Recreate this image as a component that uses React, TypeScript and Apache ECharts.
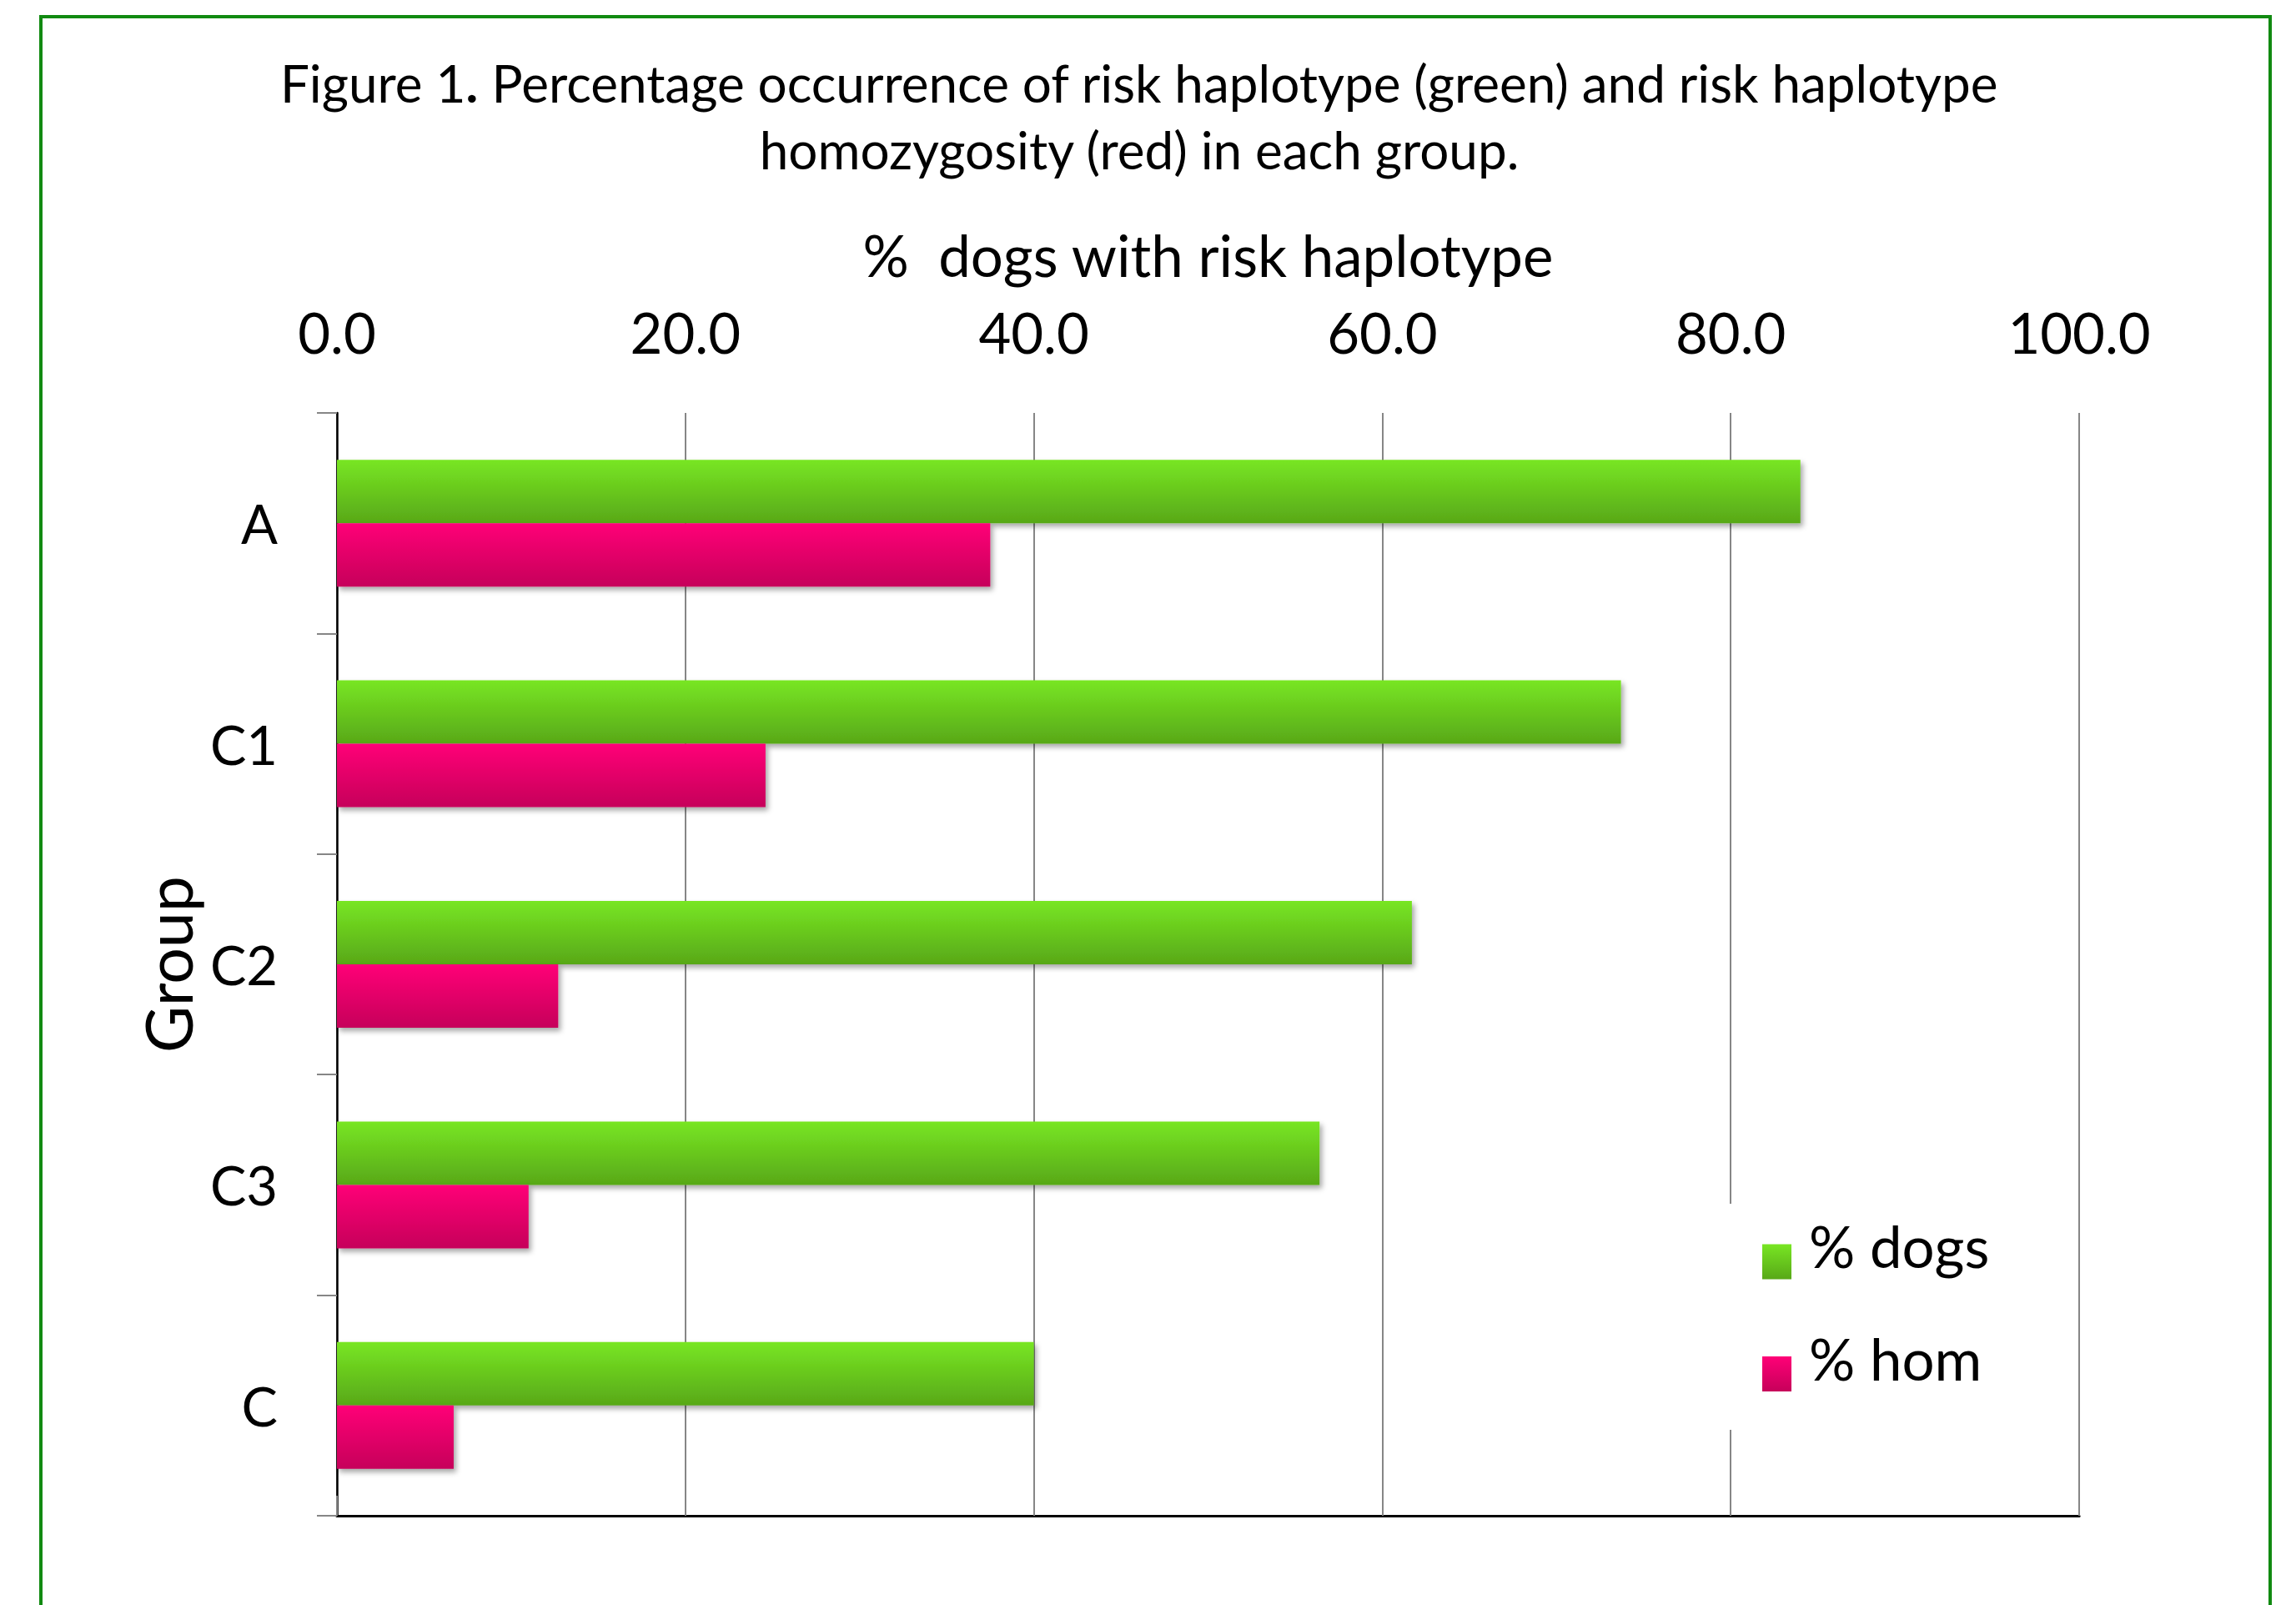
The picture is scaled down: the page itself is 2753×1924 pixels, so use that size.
import React, { useEffect, useRef } from "react";
import * as echarts from "echarts";

// Groups, top to bottom
const groups = ["A", "C1", "C2", "C3", "C"];
// % of dogs carrying the risk haplotype
const pctDogs = [84.0, 73.7, 61.7, 56.4, 40.0];
// % of dogs homozygous for the risk haplotype
const pctHom = [37.5, 24.6, 12.7, 11.0, 6.7];
// Value-axis ticks
const xTicks = [0, 20, 40, 60, 80, 100];

const FONT = "Lato";

export default function App() {
  const ref = useRef<HTMLDivElement>(null);

  useEffect(() => {
    if (!ref.current) return;
    const chart = echarts.init(ref.current, undefined, { renderer: "svg" });

    const green = new echarts.graphic.LinearGradient(0, 0, 0, 1, [
      { offset: 0, color: "#78E623" },
      { offset: 1, color: "#58A818" },
    ]);
    const pink = new echarts.graphic.LinearGradient(0, 0, 0, 1, [
      { offset: 0, color: "#FF0077" },
      { offset: 1, color: "#C6005A" },
    ]);
    const barShadow = {
      shadowColor: "rgba(0,0,0,0.35)",
      shadowBlur: 6,
      shadowOffsetX: 3,
      shadowOffsetY: 4,
    };

    chart.setOption({
      animation: false,
      backgroundColor: "#ffffff",
      textStyle: { fontFamily: FONT, color: "#000" },
      title: {
        text:
          "Figure 1{b|.} Percentage occurrence of risk haplotype (green) and risk haplotype\nhomozygosity (red) in each group.",
        left: 1361,
        top: 54,
        textAlign: "center",
        textStyle: {
          fontFamily: FONT,
          fontSize: 62,
          fontWeight: "normal",
          lineHeight: 80,
          color: "#000",
          rich: {
            b: { fontFamily: FONT, fontSize: 62, fontWeight: "bold", lineHeight: 80 },
          },
        },
      },
      legend: {
        orient: "vertical",
        left: 2060,
        top: 1443,
        padding: [16, 40, 46, 53],
        backgroundColor: "#ffffff",
        itemWidth: 35,
        itemHeight: 42,
        itemGap: 60,
        icon: "rect",
        formatter: (name: string) => `{t|${name}}`,
        textStyle: {
          fontFamily: FONT,
          fontSize: 69,
          color: "#000",
          rich: {
            t: {
              fontFamily: FONT,
              fontSize: 69,
              color: "#000",
              padding: [0, 0, 38, 16],
            },
          },
        },
        data: ["% dogs", "% hom"],
      },
      grid: { left: 404, top: 495, right: 260, bottom: 107 },
      xAxis: [
        {
          type: "value",
          position: "top",
          min: xTicks[0],
          max: xTicks[xTicks.length - 1],
          interval: xTicks[1] - xTicks[0],
          name: "%  dogs with risk haplotype",
          nameLocation: "middle",
          nameGap: 155,
          nameTextStyle: { fontFamily: FONT, fontSize: 69, color: "#000" },
          axisLine: { show: true, lineStyle: { color: "#868686", width: 3 } },
          axisTick: { show: true, length: 24, lineStyle: { color: "#868686", width: 2 } },
          axisLabel: {
            margin: 64,
            fontFamily: FONT,
            fontSize: 67,
            color: "#000",
            formatter: (v: number) => v.toFixed(1),
          },
          splitLine: { show: true, lineStyle: { color: "#868686", width: 2 } },
        },
        {
          type: "value",
          position: "bottom",
          min: 0,
          max: 100,
          axisLine: { show: true, lineStyle: { color: "#000", width: 3 } },
          axisTick: { show: false },
          axisLabel: { show: false },
          splitLine: { show: false },
        },
      ],
      yAxis: [
        {
          type: "category",
          inverse: true,
          data: groups,
          name: "Group",
          nameLocation: "middle",
          nameRotate: 90,
          nameGap: 165,
          nameTextStyle: { fontFamily: FONT, fontSize: 77, color: "#000" },
          axisLine: { show: true, lineStyle: { color: "#868686", width: 2 } },
          axisTick: { show: true, length: 24, lineStyle: { color: "#868686", width: 2 } },
          axisLabel: { margin: 71, fontFamily: FONT, fontSize: 65, color: "#000" },
          splitLine: { show: false },
        },
        {
          type: "value",
          position: "right",
          min: 0,
          max: 1,
          axisLine: { show: true, lineStyle: { color: "#000", width: 2.5 } },
          axisTick: { show: false },
          axisLabel: { show: false },
          splitLine: { show: false },
        },
      ],
      series: [
        {
          name: "% dogs",
          type: "bar",
          xAxisIndex: 0,
          yAxisIndex: 0,
          data: pctDogs,
          barWidth: 76,
          barGap: "0%",
          itemStyle: { color: green, ...barShadow },
        },
        {
          name: "% hom",
          type: "bar",
          xAxisIndex: 0,
          yAxisIndex: 0,
          data: pctHom,
          barWidth: 76,
          barGap: "0%",
          itemStyle: { color: pink, ...barShadow },
        },
      ],
      graphic: [
        {
          type: "rect",
          shape: { x: 49, y: 20, width: 2673, height: 2000 },
          style: { fill: "none", stroke: "#118A11", lineWidth: 4 },
          silent: true,
          z: 100,
        },
      ],
    });

    return () => chart.dispose();
  }, []);

  return (
    <div
      ref={ref}
      style={{ position: "fixed", left: 0, top: 0, width: 2753, height: 1924, background: "#fff" }}
    />
  );
}
